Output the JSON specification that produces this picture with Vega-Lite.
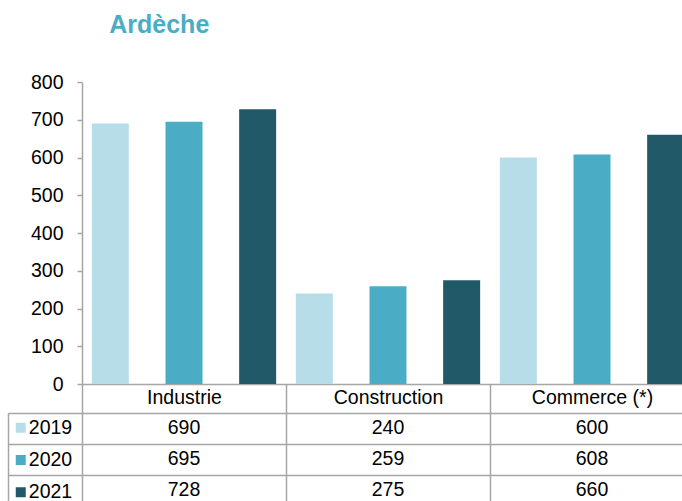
{
  "$schema": "https://vega.github.io/schema/vega-lite/v6.json",
  "autosize": {"type": "none"},
  "padding": {"left": 82, "top": 82, "right": 0, "bottom": 0},
  "width": 600,
  "height": 419,
  "title": {"text": "Ardèche", "anchor": "start", "dx": 102, "fontSize": 25, "fontWeight": "bold", "color": "#4bacc6", "font": "Liberation Sans", "baseline": "alphabetic", "offset": 14},
  "config": {"view": {"stroke": null}, "font": "Liberation Sans"},
  "data": {"values": [
    {"category": "Industrie", "year": "2019", "value": 690},
    {"category": "Industrie", "year": "2020", "value": 695},
    {"category": "Industrie", "year": "2021", "value": 728},
    {"category": "Construction", "year": "2019", "value": 240},
    {"category": "Construction", "year": "2020", "value": 259},
    {"category": "Construction", "year": "2021", "value": 275},
    {"category": "Commerce (*)", "year": "2019", "value": 600},
    {"category": "Commerce (*)", "year": "2020", "value": 608},
    {"category": "Commerce (*)", "year": "2021", "value": 660}
  ]},
  "layer": [
    {
      "mark": {"type": "bar", "clip": true},
      "encoding": {
        "x": {"field": "category", "type": "nominal", "sort": ["Industrie", "Construction", "Commerce (*)"],
          "scale": {"range": [0, 612], "paddingInner": 0, "paddingOuter": 0},
          "axis": {"orient": "bottom", "offset": -117, "title": null, "labelAngle": 0, "tickBand": "extent", "tickSize": 122, "labelPadding": -118, "domainColor": "#a6a6a6", "tickColor": "#a6a6a6", "domainWidth": 1.5, "tickWidth": 1.5, "labelFontSize": 19.5, "labelColor": "black", "labelFont": "Liberation Sans"}},
        "xOffset": {"field": "year", "type": "nominal", "scale": {"paddingInner": 0.4976, "paddingOuter": 0.1337}},
        "y": {"field": "value", "type": "quantitative",
          "scale": {"domain": [0, 800], "range": [302, 0], "nice": false},
          "axis": {"orient": "left", "values": [0, 100, 200, 300, 400, 500, 600, 700, 800], "title": null, "grid": false, "tickSize": 5, "labelPadding": 14, "labelFontSize": 19.5, "labelColor": "black", "labelFont": "Liberation Sans", "domainColor": "#a6a6a6", "tickColor": "#a6a6a6", "domainWidth": 1.5, "tickWidth": 1.5}},
        "color": {"field": "year", "type": "nominal",
          "scale": {"domain": ["2019", "2020", "2021"], "range": ["#b7dee8", "#4bacc6", "#215968"]},
          "legend": {"orient": "none", "legendX": -71, "legendY": 336, "title": null, "symbolType": "square", "symbolSize": 100, "symbolStrokeWidth": 0, "labelFontSize": 19.5, "labelColor": "black", "labelFont": "Liberation Sans", "labelOffset": -1.7, "padding": 0, "rowPadding": 11.25}}
      }
    },
    {
      "mark": {"type": "text", "fontSize": 19.5, "color": "black", "font": "Liberation Sans"},
      "encoding": {
        "x": {"field": "category", "type": "nominal", "sort": ["Industrie", "Construction", "Commerce (*)"]},
        "y": {"field": "year", "type": "ordinal",
          "scale": {"type": "band", "range": [330.7, 424], "paddingInner": 0, "paddingOuter": 0},
          "axis": {"orient": "left", "offset": 74, "title": null, "labels": false, "domain": true, "domainColor": "#a6a6a6", "domainWidth": 1.5, "tickBand": "extent", "tickSize": -74, "grid": true, "gridColor": "#a6a6a6", "gridWidth": 1.5, "tickColor": "#a6a6a6", "tickWidth": 1.5}},
        "text": {"field": "value", "type": "quantitative"}
      }
    }
  ],
  "resolve": {"scale": {"y": "independent"}, "axis": {"y": "independent"}}
}
